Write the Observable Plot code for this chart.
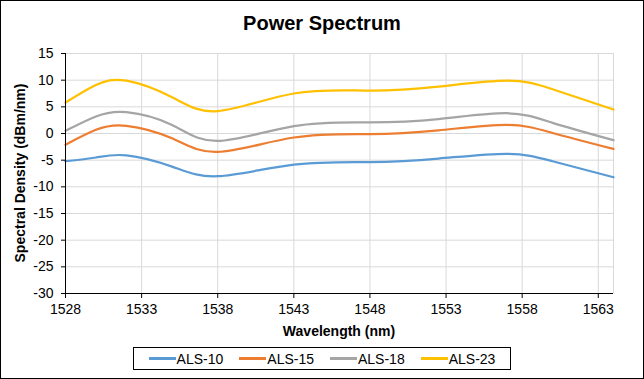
<!DOCTYPE html>
<html>
<head>
<meta charset="utf-8">
<script src="https://cdn.jsdelivr.net/npm/d3@7"></script>
<script src="https://cdn.jsdelivr.net/npm/@observablehq/plot@0.6"></script>
<style>
  html, body { margin: 0; padding: 0; background: #fff; }
  #chart { position: relative; width: 644px; height: 379px; font-family: "Liberation Sans", Arial, sans-serif; overflow: hidden; }
  #chart svg { position: absolute; left: 0; top: 0; }
  #border { position: absolute; left: 0; top: 0; width: 644px; height: 379px; box-sizing: border-box; border: 1px solid #000; pointer-events: none; }
  #title { position: absolute; left: 0; width: 644px; top: 11px; text-align: center; font-weight: bold; font-size: 20px; line-height: 24px; color: #000; }
  #xtitle { position: absolute; left: 65px; width: 548px; top: 322px; text-align: center; font-weight: bold; font-size: 14px; line-height: 18px; color: #000; }
  #ytitle { position: absolute; left: 20px; top: 173px; transform: translate(-50%, -50%) rotate(-90deg); white-space: nowrap; font-weight: bold; font-size: 14px; line-height: 18px; color: #000; }
  #legend { position: absolute; left: 133px; top: 347px; width: 378px; height: 23px; box-sizing: border-box; border: 1px solid #000; display: flex; align-items: center; justify-content: center; gap: 16px; font-size: 14px; color: #000; }
  .item { display: flex; align-items: center; }
  .swatch { width: 27px; height: 2.5px; margin-right: 1px; }
</style>
</head>
<body>
<div id="chart">
  <div id="title">Power Spectrum</div>
  <div id="xtitle">Wavelength (nm)</div>
  <div id="ytitle">Spectral Density (dBm/nm)</div>
  <div id="legend"></div>
  <div id="border"></div>
</div>
<script>
// Wavelength sample points (nm)
const wavelengths = [1528, 1530, 1532, 1535, 1538, 1543, 1548, 1552.5, 1557, 1560, 1564];
// Spectral density per series (dBm/nm)
const als10 = [-5.2, -4.5, -4.1, -6.2, -8.0, -5.85, -5.35, -4.7, -3.8, -5.2, -8.2];
const als15 = [-2.1, 0.7, 1.45, -0.9, -3.45, -0.75, -0.1, 0.6, 1.6, 0.1, -2.9];
const als18 = [0.5, 3.2, 4.0, 1.6, -1.4, 1.4, 2.1, 2.7, 3.8, 2.0, -1.25];
const als23 = [5.8, 9.1, 9.9, 6.8, 4.2, 7.5, 8.05, 8.8, 9.9, 8.3, 4.5];

const seriesNames = ["ALS-10", "ALS-15", "ALS-18", "ALS-23"];
const seriesColors = ["#5B9BD5", "#ED7D31", "#A5A5A5", "#FFC000"];
const xTicks = [1528, 1533, 1538, 1543, 1548, 1553, 1558, 1563];
const yTicks = [-30, -25, -20, -15, -10, -5, 0, 5, 10, 15];

const seriesValues = [als10, als15, als18, als23];
const data = seriesNames.flatMap((name, i) =>
  wavelengths.map((w, j) => ({ series: name, wavelength: w, value: seriesValues[i][j] }))
);

const plot = Plot.plot({
  width: 644,
  height: 340,
  marginLeft: 65,
  marginRight: 31,
  marginTop: 53,
  marginBottom: 47,
  style: { fontFamily: '"Liberation Sans", Arial, sans-serif', fontSize: "14px", background: "transparent", color: "#000" },
  x: { domain: [1528, 1564], label: null },
  y: { domain: [-30, 15], label: null },
  color: { domain: seriesNames, range: seriesColors },
  marks: [
    Plot.gridX(xTicks, { stroke: "#D9D9D9", strokeOpacity: 1, strokeWidth: 1 }),
    Plot.ruleX([1564], { stroke: "#D9D9D9", strokeWidth: 1 }),
    Plot.gridY(yTicks, { stroke: "#D9D9D9", strokeOpacity: 1, strokeWidth: 1 }),
    Plot.line(data, { x: "wavelength", y: "value", z: "series", stroke: "series", strokeWidth: 2.25, curve: "natural" }),
    Plot.ruleX([1528], { stroke: "#000", strokeWidth: 1 }),
    Plot.ruleY([-30], { stroke: "#000", strokeWidth: 1 }),
    Plot.axisX(xTicks, { tickSize: 5, tickPadding: 6, tickFormat: d => String(d), fontSize: 14, stroke: "#000", label: null }),
    Plot.axisY(yTicks, { tickSize: 4, tickPadding: 8, tickFormat: d => String(d), fontSize: 14, stroke: "#000", label: null })
  ]
});
document.getElementById("chart").insertBefore(plot, document.getElementById("title"));

const legend = document.getElementById("legend");
seriesNames.forEach((name, i) => {
  const item = document.createElement("div");
  item.className = "item";
  const sw = document.createElement("div");
  sw.className = "swatch";
  sw.style.background = seriesColors[i];
  const label = document.createElement("span");
  label.textContent = name;
  item.appendChild(sw);
  item.appendChild(label);
  legend.appendChild(item);
});
</script>
</body>
</html>
